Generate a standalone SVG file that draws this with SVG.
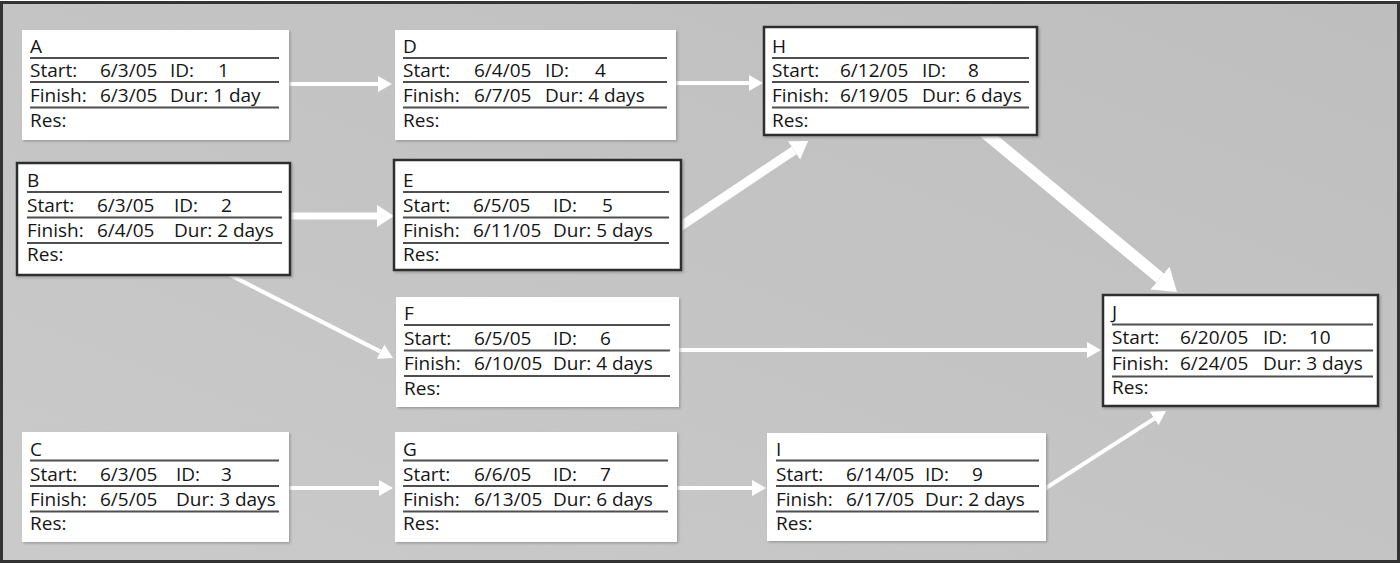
<svg xmlns="http://www.w3.org/2000/svg" width="1400" height="564" viewBox="0 0 1400 564">
<style>
.t{font-family:"Open Sans","Liberation Sans",sans-serif;font-size:19px;fill:#151515}
.box{fill:#fff;filter:url(#sh)}
.crit{stroke:#2e2e2e;stroke-width:2.5}
.rule{stroke:#4f4f4f;stroke-width:2.2}
.a{stroke:#fff;fill:none}
</style>
<defs>
<linearGradient id="bg" x1="0" y1="1" x2="1" y2="0">
<stop offset="0" stop-color="#cacaca"/>
<stop offset="1" stop-color="#bebebe"/>
</linearGradient>
<filter id="sh" x="-5%" y="-5%" width="110%" height="115%">
<feDropShadow dx="1.5" dy="1.5" stdDeviation="1" flood-color="#888" flood-opacity="0.7"/>
</filter>
<marker id="hs" markerUnits="userSpaceOnUse" markerWidth="16" markerHeight="18" viewBox="0 -9 16 18" refX="0" refY="0" orient="auto"><path d="M0,-8 L14,0 L0,8 z" fill="#fff"/></marker>
<marker id="hm" markerUnits="userSpaceOnUse" markerWidth="20" markerHeight="26" viewBox="0 -13 20 26" refX="0" refY="0" orient="auto"><path d="M0,-11 L17,0 L0,11 z" fill="#fff"/></marker>
<marker id="hl" markerUnits="userSpaceOnUse" markerWidth="24" markerHeight="32" viewBox="0 -16 24 32" refX="0" refY="0" orient="auto"><path d="M0,-15 L22,0 L0,15 z" fill="#fff"/></marker>
</defs>
<rect x="1.5" y="2.5" width="1397" height="559" fill="url(#bg)" stroke="#333" stroke-width="3"/>

<g id="connectors">
<line class="a" x1="285" y1="84" x2="378" y2="84" stroke-width="4" marker-end="url(#hs)"/>
<line class="a" x1="672" y1="83" x2="749" y2="83" stroke-width="4" marker-end="url(#hs)"/>
<line class="a" x1="285" y1="488" x2="379" y2="488" stroke-width="4" marker-end="url(#hs)"/>
<line class="a" x1="673" y1="488" x2="752" y2="488" stroke-width="4" marker-end="url(#hs)"/>
<line class="a" x1="675" y1="350" x2="1087" y2="350" stroke-width="4" marker-end="url(#hs)"/>
<line class="a" x1="228" y1="274" x2="380.5" y2="351.6" stroke-width="4" marker-end="url(#hs)"/>
<line class="a" x1="1042" y1="490.5" x2="1154.2" y2="418.6" stroke-width="4" marker-end="url(#hs)"/>
<line class="a" x1="286" y1="216" x2="377" y2="216" stroke-width="7" marker-end="url(#hm)"/>
<line class="a" x1="678" y1="228" x2="794" y2="150.4" stroke-width="9" marker-end="url(#hm)"/>
<line class="a" x1="984" y1="132" x2="1160" y2="278" stroke-width="12" marker-end="url(#hl)"/>
</g>

<g id="A">
<rect class="box" x="22" y="30" width="267" height="110"/>
<line class="rule" x1="30" y1="58" x2="279" y2="58"/><line class="rule" x1="30" y1="82" x2="279" y2="82"/><line class="rule" x1="30" y1="107.5" x2="279" y2="107.5"/>
<text class="t" x="30" y="53">A</text>
<text class="t" x="30" y="77">Start:</text><text class="t" x="100" y="77">6/3/05</text><text class="t" x="170" y="77">ID:</text><text class="t" x="218" y="77">1</text>
<text class="t" x="30" y="102">Finish:</text><text class="t" x="100" y="102">6/3/05</text><text class="t" x="170" y="102">Dur: 1 day</text>
<text class="t" x="30" y="127">Res:</text>
</g>

<g id="B">
<rect class="box crit" x="17" y="163" width="273" height="112"/>
<line class="rule" x1="27" y1="192" x2="282" y2="192"/><line class="rule" x1="27" y1="217.5" x2="282" y2="217.5"/><line class="rule" x1="27" y1="243" x2="282" y2="243"/>
<text class="t" x="27" y="187">B</text>
<text class="t" x="27" y="212">Start:</text><text class="t" x="97" y="212">6/3/05</text><text class="t" x="174" y="212">ID:</text><text class="t" x="221" y="212">2</text>
<text class="t" x="27" y="237">Finish:</text><text class="t" x="97" y="237">6/4/05</text><text class="t" x="174" y="237">Dur: 2 days</text>
<text class="t" x="27" y="261">Res:</text>
</g>

<g id="C">
<rect class="box" x="22" y="432" width="267" height="110"/>
<line class="rule" x1="30" y1="460.5" x2="279" y2="460.5"/><line class="rule" x1="30" y1="486" x2="279" y2="486"/><line class="rule" x1="30" y1="511.5" x2="279" y2="511.5"/>
<text class="t" x="30" y="456">C</text>
<text class="t" x="30" y="481">Start:</text><text class="t" x="100" y="481">6/3/05</text><text class="t" x="176" y="481">ID:</text><text class="t" x="221" y="481">3</text>
<text class="t" x="30" y="506">Finish:</text><text class="t" x="100" y="506">6/5/05</text><text class="t" x="176" y="506">Dur: 3 days</text>
<text class="t" x="30" y="530">Res:</text>
</g>

<g id="D">
<rect class="box" x="395" y="30" width="281" height="110"/>
<line class="rule" x1="403" y1="58" x2="667" y2="58"/><line class="rule" x1="403" y1="82" x2="667" y2="82"/><line class="rule" x1="403" y1="107.5" x2="667" y2="107.5"/>
<text class="t" x="403" y="53">D</text>
<text class="t" x="403" y="77">Start:</text><text class="t" x="474" y="77">6/4/05</text><text class="t" x="545" y="77">ID:</text><text class="t" x="595" y="77">4</text>
<text class="t" x="403" y="102">Finish:</text><text class="t" x="474" y="102">6/7/05</text><text class="t" x="545" y="102">Dur: 4 days</text>
<text class="t" x="403" y="127">Res:</text>
</g>

<g id="E">
<rect class="box crit" x="394" y="160" width="287" height="110"/>
<line class="rule" x1="403" y1="192" x2="669" y2="192"/><line class="rule" x1="403" y1="217.5" x2="669" y2="217.5"/><line class="rule" x1="403" y1="243" x2="669" y2="243"/>
<text class="t" x="403" y="187">E</text>
<text class="t" x="403" y="212">Start:</text><text class="t" x="473" y="212">6/5/05</text><text class="t" x="553" y="212">ID:</text><text class="t" x="602" y="212">5</text>
<text class="t" x="403" y="237">Finish:</text><text class="t" x="473" y="237">6/11/05</text><text class="t" x="553" y="237">Dur: 5 days</text>
<text class="t" x="403" y="261">Res:</text>
</g>

<g id="F">
<rect class="box" x="396" y="297" width="283" height="110"/>
<line class="rule" x1="404" y1="325" x2="670" y2="325"/><line class="rule" x1="404" y1="350.5" x2="670" y2="350.5"/><line class="rule" x1="404" y1="376" x2="670" y2="376"/>
<text class="t" x="404" y="320">F</text>
<text class="t" x="404" y="345">Start:</text><text class="t" x="474" y="345">6/5/05</text><text class="t" x="553" y="345">ID:</text><text class="t" x="600" y="345">6</text>
<text class="t" x="404" y="370">Finish:</text><text class="t" x="474" y="370">6/10/05</text><text class="t" x="553" y="370">Dur: 4 days</text>
<text class="t" x="404" y="395">Res:</text>
</g>

<g id="G">
<rect class="box" x="395" y="432" width="282" height="110"/>
<line class="rule" x1="403" y1="460.5" x2="668" y2="460.5"/><line class="rule" x1="403" y1="486" x2="668" y2="486"/><line class="rule" x1="403" y1="511.5" x2="668" y2="511.5"/>
<text class="t" x="403" y="456">G</text>
<text class="t" x="403" y="481">Start:</text><text class="t" x="474" y="481">6/6/05</text><text class="t" x="553" y="481">ID:</text><text class="t" x="600" y="481">7</text>
<text class="t" x="403" y="506">Finish:</text><text class="t" x="474" y="506">6/13/05</text><text class="t" x="553" y="506">Dur: 6 days</text>
<text class="t" x="403" y="530">Res:</text>
</g>

<g id="H">
<rect class="box crit" x="764" y="27" width="273" height="108"/>
<line class="rule" x1="772" y1="58" x2="1029" y2="58"/><line class="rule" x1="772" y1="82" x2="1029" y2="82"/><line class="rule" x1="772" y1="107.5" x2="1029" y2="107.5"/>
<text class="t" x="772" y="53">H</text>
<text class="t" x="772" y="77">Start:</text><text class="t" x="840" y="77">6/12/05</text><text class="t" x="922" y="77">ID:</text><text class="t" x="968" y="77">8</text>
<text class="t" x="772" y="102">Finish:</text><text class="t" x="840" y="102">6/19/05</text><text class="t" x="922" y="102">Dur: 6 days</text>
<text class="t" x="772" y="127">Res:</text>
</g>

<g id="I">
<rect class="box" x="767" y="433" width="279" height="108"/>
<line class="rule" x1="776" y1="460.5" x2="1039" y2="460.5"/><line class="rule" x1="776" y1="486" x2="1039" y2="486"/><line class="rule" x1="776" y1="511.5" x2="1039" y2="511.5"/>
<text class="t" x="776" y="456">I</text>
<text class="t" x="776" y="481">Start:</text><text class="t" x="846" y="481">6/14/05</text><text class="t" x="925" y="481">ID:</text><text class="t" x="972" y="481">9</text>
<text class="t" x="776" y="506">Finish:</text><text class="t" x="846" y="506">6/17/05</text><text class="t" x="925" y="506">Dur: 2 days</text>
<text class="t" x="776" y="530">Res:</text>
</g>

<g id="J">
<rect class="box crit" x="1103" y="295" width="275" height="111"/>
<line class="rule" x1="1112" y1="324.5" x2="1373" y2="324.5"/><line class="rule" x1="1112" y1="350.5" x2="1373" y2="350.5"/><line class="rule" x1="1112" y1="376.5" x2="1373" y2="376.5"/>
<text class="t" x="1112" y="319">J</text>
<text class="t" x="1112" y="344">Start:</text><text class="t" x="1180" y="344">6/20/05</text><text class="t" x="1263" y="344">ID:</text><text class="t" x="1309" y="344">10</text>
<text class="t" x="1112" y="370">Finish:</text><text class="t" x="1180" y="370">6/24/05</text><text class="t" x="1263" y="370">Dur: 3 days</text>
<text class="t" x="1112" y="394">Res:</text>
</g>
</svg>
